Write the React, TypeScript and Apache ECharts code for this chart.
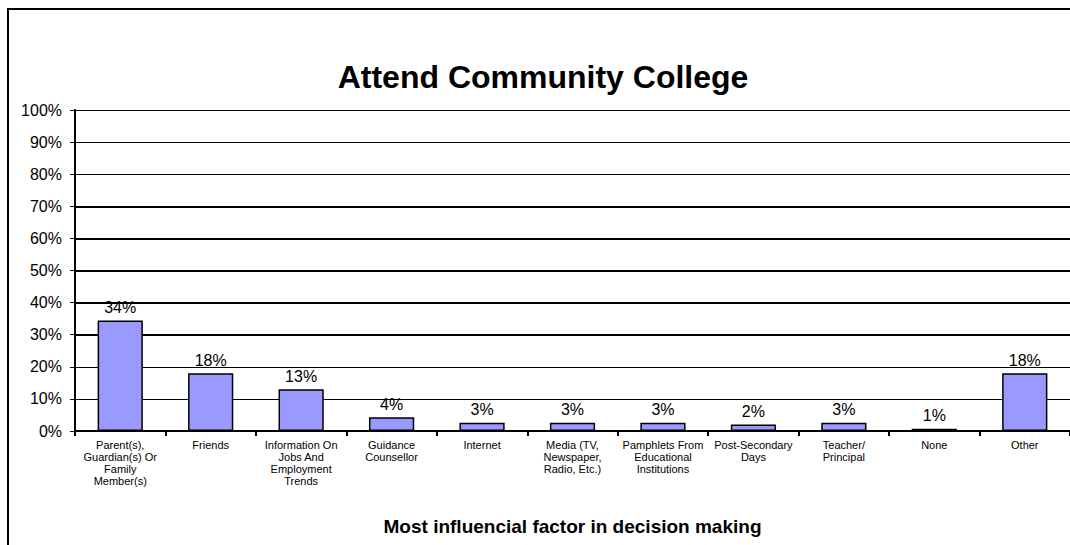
import React, { useEffect, useRef } from "react";
import * as echarts from "echarts";

const chartTitle = "Attend Community College";
const axisTitle = "Most influencial factor in decision making";
const categories = [
  "Parent(s),\nGuardian(s) Or\nFamily\nMember(s)",
  "Friends",
  "Information On\nJobs And\nEmployment\nTrends",
  "Guidance\nCounsellor",
  "Internet",
  "Media (TV,\nNewspaper,\nRadio, Etc.)",
  "Pamphlets From\nEducational\nInstitutions",
  "Post-Secondary\nDays",
  "Teacher/\nPrincipal",
  "None",
  "Other",
];
const values = [34.4, 18.0, 13.0, 4.3, 2.6, 2.6, 2.6, 2.0, 2.6, 0.7, 18.0];
const yMin = 0;
const yMax = 100;
const yStep = 10;
const heavyGridValues = [30, 40, 50, 60, 70];

const FONT = "'Liberation Sans', Arial, sans-serif";

export default function App() {
  const ref = useRef<HTMLDivElement>(null);
  useEffect(() => {
    if (!ref.current) return;
    const chart = echarts.init(ref.current, null, { renderer: "svg" });
    chart.setOption({
      animation: false,
      backgroundColor: "#ffffff",
      textStyle: { fontFamily: FONT },
      graphic: [
        {
          type: "rect",
          shape: { x: 8, y: 9, width: 1200, height: 800 },
          style: { fill: "none", stroke: "#000", lineWidth: 2 },
          z: 100,
        },
        {
          type: "text",
          x: 543,
          y: 77,
          style: {
            text: chartTitle,
            font: `bold 32px ${FONT}`,
            fill: "#000",
            textAlign: "center",
            textVerticalAlign: "middle",
          },
        },
      ],
      grid: { left: 75, top: 110, width: 996, height: 321, containLabel: false },
      xAxis: {
        type: "category",
        data: categories,
        name: axisTitle,
        nameLocation: "middle",
        nameGap: 86,
        nameTextStyle: { fontFamily: FONT, fontSize: 19, fontWeight: "bold", color: "#000" },
        axisLine: { lineStyle: { color: "#000", width: 2 } },
        axisTick: { show: true, length: 5, lineStyle: { color: "#000", width: 2 } },
        axisLabel: {
          interval: 0,
          fontFamily: FONT,
          fontSize: 11,
          lineHeight: 12,
          color: "#000",
          margin: 8,
        },
      },
      yAxis: {
        type: "value",
        min: yMin,
        max: yMax,
        interval: yStep,
        axisLine: { show: true, lineStyle: { color: "#000", width: 2 } },
        axisTick: { show: true, length: 5, lineStyle: { color: "#000", width: 1 } },
        axisLabel: {
          formatter: "{value}%",
          fontFamily: FONT,
          fontSize: 16,
          color: "#000",
          margin: 13,
        },
        splitLine: { show: true, lineStyle: { color: "#000", width: 1 } },
      },
      series: [
        {
          type: "bar",
          data: values,
          barCategoryGap: "50%",
          z: 3,
          itemStyle: { color: "#9999FF", borderColor: "#000", borderWidth: 1.5 },
          label: {
            show: true,
            position: "top",
            distance: 5,
            formatter: (p: any) => `${Math.round(p.value)}%`,
            fontFamily: FONT,
            fontSize: 16,
            color: "#000",
          },
          markLine: {
            silent: true,
            symbol: "none",
            z: 1,
            label: { show: false },
            lineStyle: { color: "#000", width: 2, type: "solid" },
            data: heavyGridValues.map((v) => ({ yAxis: v })),
          },
        },
      ],
    });
    return () => chart.dispose();
  }, []);
  return (
    <div
      ref={ref}
      style={{ position: "absolute", left: 0, top: 0, width: 1070, height: 545 }}
    />
  );
}
